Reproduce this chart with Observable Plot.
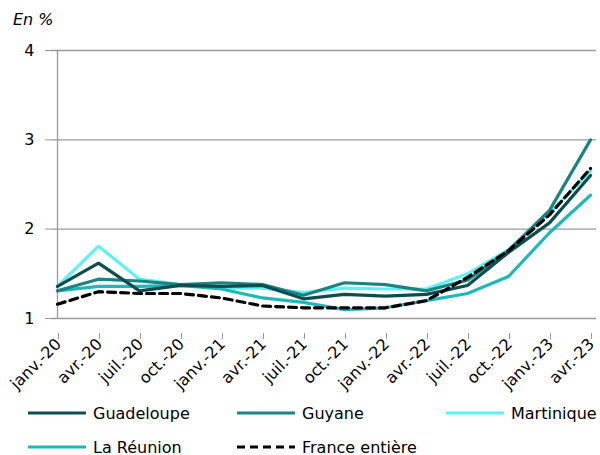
<!DOCTYPE html>
<html>
<head>
<meta charset="utf-8">
<script src="https://cdn.jsdelivr.net/npm/d3@7"></script>
<script src="https://cdn.jsdelivr.net/npm/@observablehq/plot@0.6"></script>
<style>
  html, body { margin: 0; padding: 0; background: #fff; }
  #wrap { position: relative; width: 600px; height: 455px; overflow: hidden; font-family: "DejaVu Sans", sans-serif; }
  #unit { position: absolute; left: 13px; top: 10px; font-size: 16px; font-style: italic; color: #000; }
  #chart { position: absolute; left: 0; top: 0; }
  .leg { position: absolute; display: flex; align-items: center; font-size: 16px; color: #000; white-space: nowrap; }
  .leg svg { margin-right: 6px; }
</style>
</head>
<body>
<div id="wrap">
  <div id="chart"></div>
  <div id="unit">En %</div>
</div>
<script>
const quarters = ["janv.-20","avr.-20","juil.-20","oct.-20","janv.-21","avr.-21","juil.-21","oct.-21","janv.-22","avr.-22","juil.-22","oct.-22","janv.-23","avr.-23"];
const seriesNames = ["Guadeloupe","Guyane","Martinique","La Réunion","France entière"];
const guadeloupe = [1.36, 1.62, 1.31, 1.37, 1.36, 1.37, 1.22, 1.27, 1.25, 1.27, 1.37, 1.74, 2.07, 2.60];
const guyane     = [1.31, 1.44, 1.42, 1.38, 1.40, 1.38, 1.26, 1.40, 1.38, 1.31, 1.43, 1.76, 2.21, 3.00];
const martinique = [1.36, 1.81, 1.44, 1.38, 1.34, 1.34, 1.29, 1.34, 1.33, 1.33, 1.50, 1.77, 2.18, 2.65];
const reunion    = [1.31, 1.36, 1.36, 1.37, 1.33, 1.23, 1.18, 1.10, 1.12, 1.20, 1.28, 1.47, 1.96, 2.38];
const france     = [1.16, 1.30, 1.28, 1.28, 1.23, 1.14, 1.12, 1.12, 1.12, 1.20, 1.46, 1.76, 2.16, 2.68];
const yTicks = [1, 2, 3, 4];

const colors = {"Guadeloupe": "#0c4e4e", "Guyane": "#1c8282", "Martinique": "#5ef2f2", "La Réunion": "#1fb8b8", "France entière": "#000000"};
const valuesBy = {"Guadeloupe": guadeloupe, "Guyane": guyane, "Martinique": martinique, "La Réunion": reunion, "France entière": france};

const rows = [];
for (const s of seriesNames) {
  valuesBy[s].forEach((v, i) => rows.push({serie: s, q: quarters[i], v}));
}
const drawOrder = ["Martinique", "La Réunion", "Guyane", "Guadeloupe"];

const chart = Plot.plot({
  width: 600,
  height: 400,
  marginTop: 50,
  marginBottom: 82,
  marginLeft: 51,
  marginRight: 4,
  style: {fontFamily: "DejaVu Sans, sans-serif", fontSize: "15px", color: "#000", background: "transparent", overflow: "visible"},
  x: {type: "point", domain: quarters, padding: 0, label: null},
  y: {domain: [1, 4], label: null},
  marks: [
    Plot.ruleY(yTicks, {stroke: "#9a9a9a", strokeWidth: 1.3, strokeOpacity: 1}),
    Plot.ruleX([quarters[0]], {stroke: "#9a9a9a", strokeWidth: 1.3}),
    Plot.axisY({ticks: yTicks, tickSize: 6, tickPadding: 11, stroke: "#9a9a9a", fontSize: 16, label: null, tickFormat: d => d}),
    Plot.axisX({tickSize: 6, tickPadding: 2, tickRotate: -45, stroke: "#9a9a9a", fontSize: 16, label: null, dx: 1, dy: 15}),
    ...drawOrder.map(s => Plot.line(rows.filter(r => r.serie === s), {x: "q", y: "v", stroke: colors[s], strokeWidth: 3.2, strokeLinejoin: "miter"})),
    Plot.line(rows.filter(r => r.serie === "France entière"), {x: "q", y: "v", stroke: "#000", strokeWidth: 3.2, strokeDasharray: "8,5"})
  ]
});
document.getElementById("chart").appendChild(chart);

// legend
const legPos = {
  "Guadeloupe": [27, 413], "Guyane": [236, 413], "Martinique": [445, 413],
  "La Réunion": [27, 447], "France entière": [236, 447]
};
const wrap = document.getElementById("wrap");
for (const s of seriesNames) {
  const d = document.createElement("div");
  d.className = "leg";
  d.style.left = legPos[s][0] + "px";
  d.style.top = (legPos[s][1] - 11) + "px";
  d.style.height = "22px";
  const dash = s === "France entière" ? ' stroke-dasharray="8,5"' : '';
  d.innerHTML = `<svg width="60" height="6"><line x1="1" y1="3" x2="59" y2="3" stroke="${colors[s]}" stroke-width="3.2"${dash}/></svg><span>${s}</span>`;
  wrap.appendChild(d);
}
</script>
</body>
</html>
